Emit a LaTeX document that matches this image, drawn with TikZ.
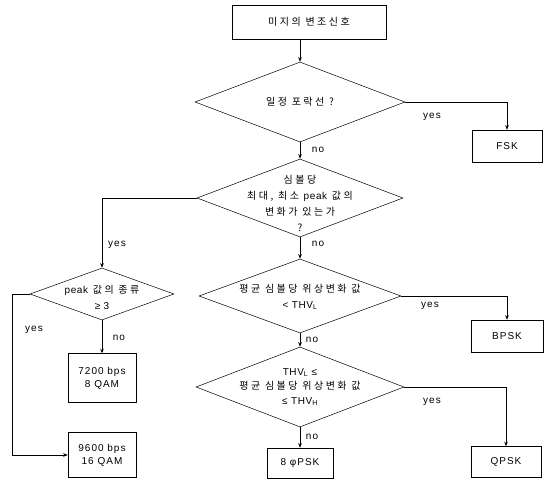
\documentclass[tikz,border=0pt]{standalone}
\usepackage{fontspec}
\setmainfont[LetterSpace=10]{Liberation Sans}
\newfontfamily\kr[LetterSpace=25]{Noto Sans CJK KR}
\newfontfamily\latn[LetterSpace=6]{Liberation Sans}
\usetikzlibrary{shapes.geometric,arrows.meta}
\begin{document}
\begin{tikzpicture}[x=1pt,y=-1pt,
  box/.style={draw, rectangle, inner sep=0pt, align=center, line width=0.5pt, font=\fontsize{10}{13}\selectfont},
  dia/.style={draw, diamond, inner sep=0pt, line width=0.5pt},
  dtext/.style={align=center, inner sep=0pt, font=\fontsize{10}{16}\selectfont\kr},
  lbl/.style={inner sep=0pt, font=\fontsize{10}{12}\selectfont},
  arr/.style={-{Stealth[length=4.5pt,width=3.5pt]}, line width=0.5pt}]
\useasboundingbox (0,0) rectangle (546,481);

% top box
\node[box, minimum width=154pt, minimum height=34pt] (start) at (309,22) {\kr 미지의 변조신호};

% diamond 1
\node[dia, minimum width=210pt, minimum height=80pt] (d1) at (300,102) {};
\node[dtext] (t1) at (300,102) {일정 포락선 ?};
\node[box, minimum width=70pt, minimum height=32pt] (fsk) at (507,146) {FSK};

% diamond 2
\node[dia, minimum width=206pt, minimum height=78pt] (d2) at (300,198) {};
\node[dtext] (t2) at (300,203) {심볼당\\최대, 최소 {\latn peak} 값의\\변화가 있는가\\?};

% diamond 3
\node[dia, minimum width=202pt, minimum height=74pt] (d3) at (300,296) {};
\node[dtext] (t3) at (300,297) {평균 심볼당 위상변화 값\\{\latn < THV\textsubscript{L}}};
\node[box, minimum width=72pt, minimum height=32pt] (bpsk) at (507,336) {BPSK};

% diamond 4
\node[dia, minimum width=208pt, minimum height=80pt] (d4) at (300,387) {};
\node[dtext, font=\fontsize{10}{14.5}\selectfont\kr] (t4) at (300,387) {{\latn THV\textsubscript{L} ≤}\\평균 심볼당 위상변화 값\\{\latn ≤ THV\textsubscript{H}}};
\node[box, minimum width=70pt, minimum height=31pt] (qpsk) at (506,462) {QPSK};
\node[box, minimum width=66pt, minimum height=30pt] (psk8) at (300,463) {8 φPSK};

% left branch
\node[dia, minimum width=144pt, minimum height=52pt] (p) at (102,294) {};
\node[dtext] (tp) at (102,297) {{\latn peak} 값의 종류\\{\latn ≥ 3}};
\node[box, minimum width=68pt, minimum height=49pt] (b72) at (102,378) {7200 bps\\8 QAM};
\node[box, minimum width=68pt, minimum height=45pt] (b96) at (102,455) {9600 bps\\16 QAM};
\coordinate (lc) at (12,0);

% connectors
\draw[arr] (start.south -| d1.north) -- (d1.north);
\draw[arr] (d1.east) -| (fsk.north);
\draw[arr] (d1.south) -- (d2.north);
\draw[arr] (d2.south) -- (d3.north);
\draw[arr] (d3.east) -| (bpsk.north);
\draw[arr] (d3.south) -- (d4.north);
\draw[arr] (d4.east) -| (qpsk.north);
\draw[arr] (d4.south) -- (psk8.north);
\draw[arr] (d2.west) -| (p.north);
\draw[arr] (p.south) -- (b72.north);
\draw[arr] (p.west) -- (p.west -| lc) |- (b96.west);

% labels
\node[lbl] (y1) at (432,117) {yes};
\node[lbl] (n1) at (318,150) {no};
\node[lbl] (n2) at (318,244) {no};
\node[lbl] (y3) at (430,306) {yes};
\node[lbl] (n3) at (312,340) {no};
\node[lbl] (y4) at (432,402) {yes};
\node[lbl] (n4) at (312,437) {no};
\node[lbl] (y2) at (117,245) {yes};
\node[lbl] (n5) at (119,338) {no};
\node[lbl] (y5) at (34,330) {yes};
\end{tikzpicture}
\end{document}
